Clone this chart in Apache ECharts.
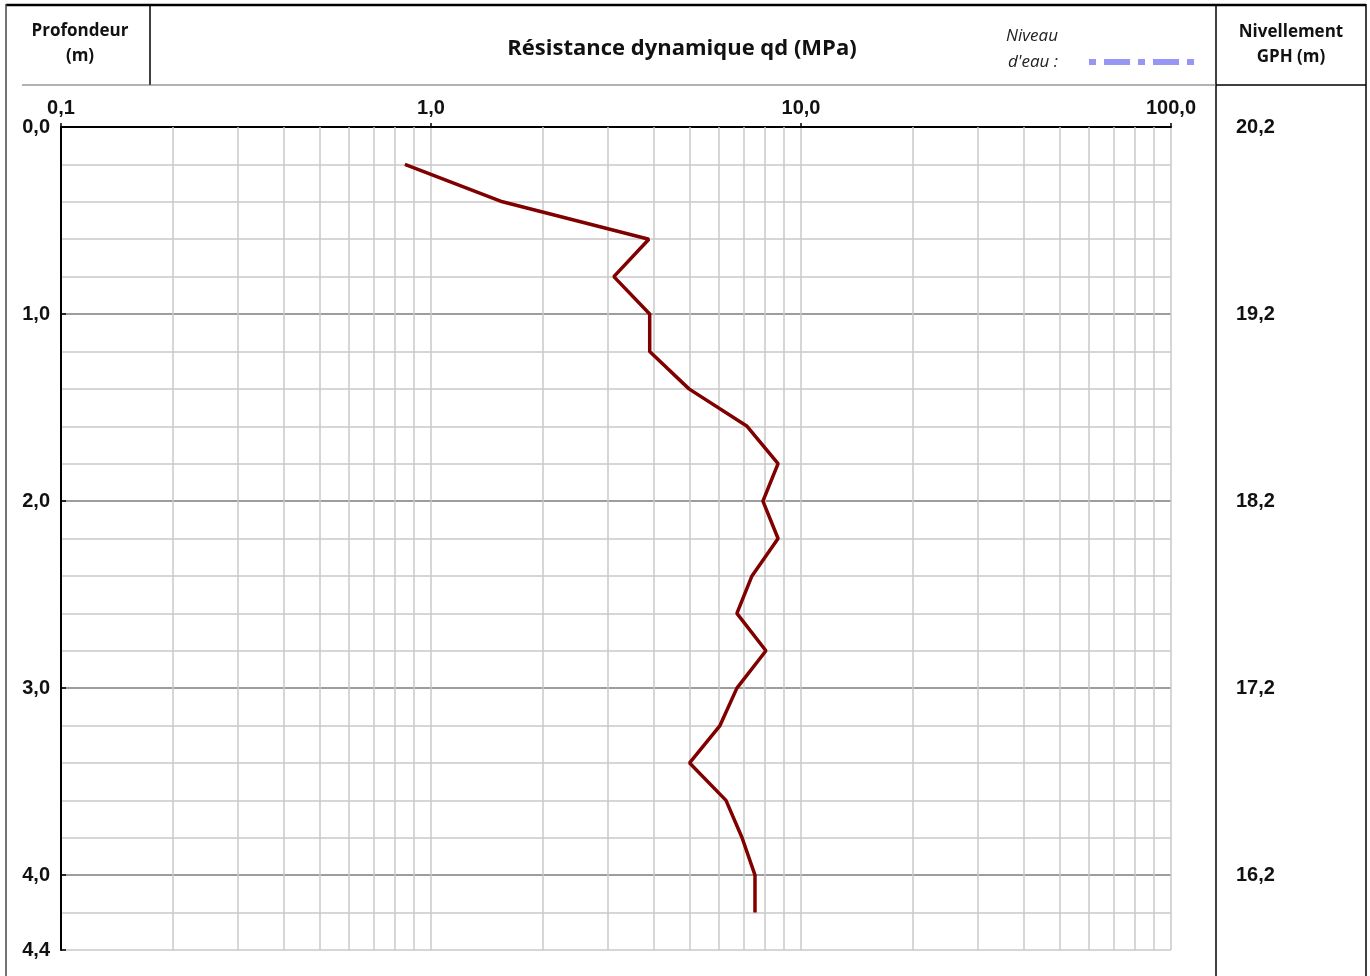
<!DOCTYPE html>
<html>
<head>
<meta charset="utf-8">
<title>Pénétromètre dynamique</title>
<script src="https://cdn.jsdelivr.net/npm/echarts@6/dist/echarts.min.js"></script>
<style>
  html, body { margin: 0; padding: 0; background: #fff; }
  #chart { width: 1370px; height: 976px; }
</style>
</head>
<body>
<div id="chart"></div>
<script>
// profondeurs (m) et résistance dynamique qd (MPa)
const depths = [0.2, 0.4, 0.6, 0.8, 1.0, 1.2, 1.4, 1.6, 1.8, 2.0, 2.2, 2.4, 2.6, 2.8, 3.0, 3.2, 3.4, 3.6, 3.8, 4.0, 4.2]
const qd = [0.85, 1.56, 3.88, 3.12, 3.9, 3.9, 4.98, 7.15, 8.67, 7.89, 8.67, 7.37, 6.71, 8.04, 6.71, 6.04, 5.0, 6.27, 6.93, 7.51, 7.51]

const groundLevel = 20.2 // nivellement GPH à 0 m
const depthMax = 4.4
const qdMin = 0.1
const qdMax = 100

const fmt = (v) => v.toFixed(1).replace('.', ',')

// lignes verticales secondaires (2..9 de chaque décade)
const minorX = []
for (let d = qdMin; d < qdMax; d *= 10) {
  for (let k = 2; k <= 9; k++) minorX.push({ xAxis: +(d * k).toPrecision(3) })
}

const headerFont = '"Open Sans", Lato, sans-serif'
const numFont = '"Liberation Sans", Arial, sans-serif'

const chart = echarts.init(document.getElementById('chart'))

const option = {
  animation: false,
  grid: { left: 61, top: 127, width: 1110, height: 823 },
  xAxis: {
    type: 'log',
    logBase: 10,
    min: qdMin,
    max: qdMax,
    position: 'top',
    z: 2,
    axisLine: { onZero: false, lineStyle: { color: '#000', width: 2 } },
    axisTick: { show: true, length: 4, lineStyle: { color: '#000', width: 1.5 } },
    axisLabel: {
      margin: 9,
      formatter: (v) => fmt(v),
      fontFamily: numFont,
      fontWeight: 'bold',
      fontSize: 20,
      color: '#111',
    },
    splitLine: { show: true, lineStyle: { color: '#c8c8c8', width: 1.5 } },
  },
  yAxis: [
    {
      // axe principal : profondeur
      type: 'value',
      inverse: true,
      min: 0,
      max: depthMax,
      interval: 1,
      position: 'left',
      z: 2,
      axisLine: { onZero: false, lineStyle: { color: '#000', width: 2 } },
      axisTick: { show: true, inside: true, length: 5, lineStyle: { color: '#000', width: 1.5 } },
      axisLabel: {
        margin: 11,
        formatter: (v) => fmt(v),
        fontFamily: numFont,
        fontWeight: 'bold',
        fontSize: 20,
        color: '#111',
      },
      splitLine: {
        show: true,
        showMinLine: false,
        showMaxLine: false,
        lineStyle: { color: '#8a8a8a', width: 1.5 },
      },
    },
    {
      // quadrillage fin tous les 0,2 m
      type: 'value',
      inverse: true,
      min: 0,
      max: depthMax,
      interval: 0.2,
      position: 'right',
      z: 0,
      axisLine: { show: false },
      axisTick: { show: false },
      axisLabel: { show: false },
      splitLine: { show: true, lineStyle: { color: '#c8c8c8', width: 1.5 } },
    },
    {
      // nivellement GPH
      type: 'value',
      inverse: true,
      min: 0,
      max: depthMax,
      interval: 1,
      position: 'right',
      offset: 57,
      axisLine: { show: false },
      axisTick: { show: false },
      splitLine: { show: false },
      axisLabel: {
        margin: 8,
        formatter: (v) => (v > 4.01 ? '' : fmt(groundLevel - v)),
        fontFamily: numFont,
        fontWeight: 'bold',
        fontSize: 20,
        color: '#111',
      },
    },
  ],
  series: [
    {
      name: 'grille',
      type: 'line',
      data: [],
      z: 1,
      silent: true,
      markLine: {
        silent: true,
        symbol: 'none',
        label: { show: false },
        lineStyle: { type: 'solid', color: '#c8c8c8', width: 1.5 },
        data: minorX,
      },
    },
    {
      name: 'qd',
      type: 'line',
      z: 5,
      showSymbol: false,
      symbol: 'none',
      lineStyle: { color: '#800000', width: 3.5 },
      data: depths.map((d, i) => [qd[i], d]),
    },
  ],
  graphic: [
    // cadre du tableau
    { type: 'line', shape: { x1: 6, y1: 5, x2: 1366, y2: 5 }, style: { stroke: '#000', lineWidth: 2.5 } },
    { type: 'line', shape: { x1: 6, y1: 4, x2: 6, y2: 976 }, style: { stroke: '#444', lineWidth: 1.5 } },
    { type: 'line', shape: { x1: 1366, y1: 4, x2: 1366, y2: 976 }, style: { stroke: '#000', lineWidth: 1.5 } },
    { type: 'line', shape: { x1: 1216, y1: 5, x2: 1216, y2: 976 }, style: { stroke: '#000', lineWidth: 1.5 } },
    { type: 'line', shape: { x1: 150, y1: 5, x2: 150, y2: 85 }, style: { stroke: '#000', lineWidth: 1.5 } },
    { type: 'line', shape: { x1: 22, y1: 85, x2: 1216, y2: 85 }, style: { stroke: '#666', lineWidth: 1.2 } },
    { type: 'line', shape: { x1: 1216, y1: 85, x2: 1366, y2: 85 }, style: { stroke: '#000', lineWidth: 1.5 } },
    // en-têtes
    {
      type: 'text', x: 80, y: 44,
      style: {
        text: 'Profondeur\n(m)', fill: '#111', align: 'center', verticalAlign: 'middle',
        font: 'bold 17px ' + headerFont, lineHeight: 25,
      },
    },
    {
      type: 'text', x: 682, y: 49,
      style: {
        text: 'Résistance dynamique qd (MPa)', fill: '#111', align: 'center', verticalAlign: 'middle',
        font: 'bold 22px ' + headerFont,
      },
    },
    {
      type: 'text', x: 1006, y: 36,
      style: { text: 'Niveau', fill: '#222', verticalAlign: 'middle', font: 'italic 17px ' + headerFont },
    },
    {
      type: 'text', x: 1008, y: 62,
      style: { text: "d'eau :", fill: '#222', verticalAlign: 'middle', font: 'italic 17px ' + headerFont },
    },
    {
      type: 'line', shape: { x1: 1089, y1: 62, x2: 1195, y2: 62 },
      style: { stroke: '#9696f5', lineWidth: 6, lineDash: [7, 8, 26, 8], lineCap: 'butt' },
    },
    {
      type: 'text', x: 1291, y: 45,
      style: {
        text: 'Nivellement\nGPH (m)', fill: '#111', align: 'center', verticalAlign: 'middle',
        font: 'bold 17px ' + headerFont, lineHeight: 25,
      },
    },
  ],
}

chart.setOption(option)
window.addEventListener('resize', () => chart.resize())
</script>
</body>
</html>
